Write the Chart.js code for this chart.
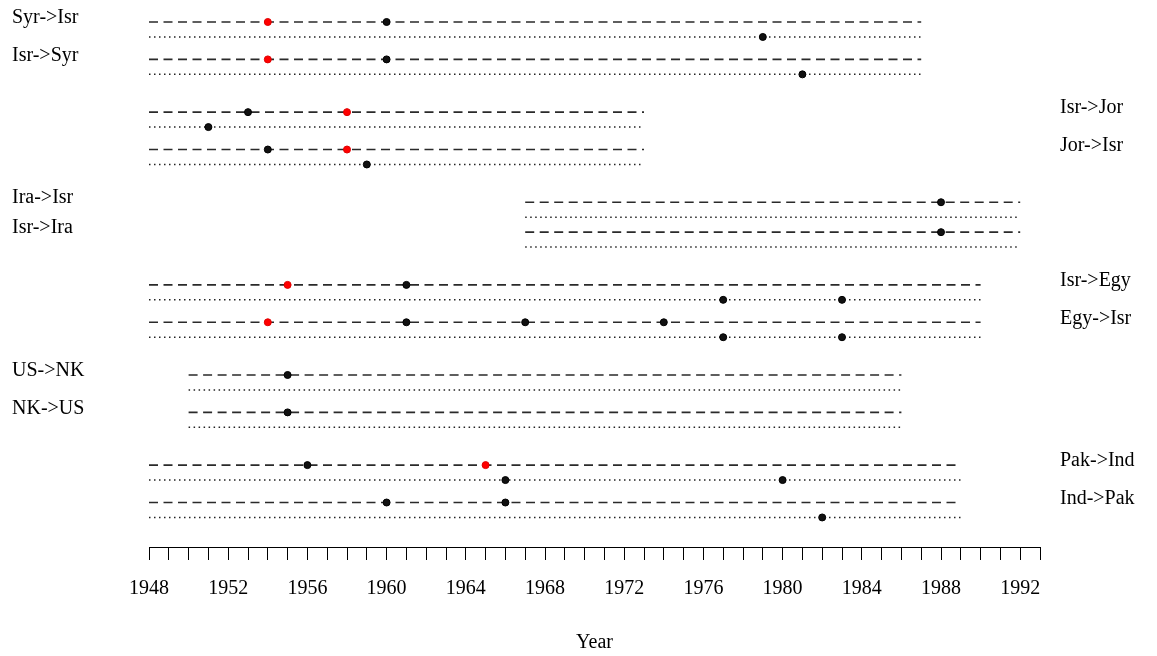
<!DOCTYPE html>
<html>
<head>
<meta charset="utf-8">
<script src="https://cdn.jsdelivr.net/npm/chart.js@4.4.0/dist/chart.umd.min.js"></script>
<style>
  html, body { margin: 0; padding: 0; background: #fff; }
</style>
</head>
<body>
<canvas id="rivalryChart" width="1157" height="656"></canvas>
<script>
// dyads, top to bottom
const dyads = ['Syr->Isr', 'Isr->Syr', 'Isr->Jor', 'Jor->Isr', 'Ira->Isr', 'Isr->Ira',
               'Isr->Egy', 'Egy->Isr', 'US->NK', 'NK->US', 'Pak->Ind', 'Ind->Pak'];
const startYear = [1948, 1948, 1948, 1948, 1967, 1967, 1948, 1948, 1950, 1950, 1948, 1948];
const endYear   = [1987, 1987, 1973, 1973, 1992, 1992, 1990, 1990, 1986, 1986, 1989, 1989];

// events on the dashed line (red / black) and on the dotted line
const redEvents    = [[1954], [1954], [1958], [1958], [], [], [1955], [1954], [], [], [1965], []];
const blackEvents  = [[1960], [1960], [1953], [1954], [1988], [1988], [1961], [1961, 1967, 1974],
                      [1955], [1955], [1956], [1960, 1966]];
const dottedEvents = [[1979], [1981], [1951], [1959], [], [], [1977, 1983], [1977, 1983],
                      [], [], [1966, 1980], [1982]];

const labelSide = ['left', 'left', 'right', 'right', 'left', 'left',
                   'right', 'right', 'left', 'left', 'right', 'right'];
const yearTicks = [1948, 1952, 1956, 1960, 1964, 1968, 1972, 1976, 1980, 1984, 1988, 1992];

// row layout (in y units): pair spacing per group, gap between groups
const pairGap = [1, 1, 0.8, 1, 1, 1];
const groupGap = 1.41;
const dotOffset = 0.4;
const levels = [];
let lv = 0;
for (let g = 0; g < pairGap.length; g++) {
    levels.push(lv, lv + pairGap[g]);
    lv += pairGap[g] + groupGap;
}

const datasets = [];
dyads.forEach((name, i) => {
    datasets.push({
        label: name + ' dashed',
        data: [{x: startYear[i], y: levels[i]}, {x: endYear[i], y: levels[i]}],
        showLine: true,
        borderColor: '#2a2a2a',
        borderWidth: 1.7,
        borderDash: [9, 5.5],
        pointRadius: 0,
        order: 2
    });
    datasets.push({
        label: name + ' dotted',
        data: [{x: startYear[i], y: levels[i] + dotOffset}, {x: endYear[i], y: levels[i] + dotOffset}],
        showLine: true,
        borderColor: '#222',
        borderWidth: 1.5,
        borderDash: [1.5, 3.5],
        pointRadius: 0,
        order: 2
    });
});

const blackPts = [];
const redPts = [];
dyads.forEach((name, i) => {
    blackEvents[i].forEach(yr => blackPts.push({x: yr, y: levels[i]}));
    dottedEvents[i].forEach(yr => blackPts.push({x: yr, y: levels[i] + dotOffset}));
    redEvents[i].forEach(yr => redPts.push({x: yr, y: levels[i]}));
});

datasets.push({
    label: 'black events',
    data: blackPts,
    pointRadius: 3.5,
    pointBackgroundColor: '#111',
    pointBorderColor: '#000',
    pointBorderWidth: 1,
    order: 0
});
datasets.push({
    label: 'red events',
    data: redPts,
    pointRadius: 3.5,
    pointBackgroundColor: '#ff0000',
    pointBorderColor: '#e00000',
    pointBorderWidth: 1,
    order: 0
});

// dyad names beside the rows
const dyadLabels = {
    id: 'dyadLabels',
    afterDraw(chart) {
        const ctx = chart.ctx;
        const yScale = chart.scales.y;
        const area = chart.chartArea;
        ctx.save();
        ctx.font = '20px "Liberation Serif"';
        ctx.fillStyle = '#000';
        ctx.textAlign = 'left';
        ctx.textBaseline = 'middle';
        dyads.forEach((name, i) => {
            const py = yScale.getPixelForValue(levels[i]) - 4;
            const px = labelSide[i] === 'left' ? 12 : area.right + 20;
            ctx.fillText(name, px, py);
        });
        ctx.restore();
    }
};

new Chart(document.getElementById('rivalryChart').getContext('2d'), {
    type: 'scatter',
    data: { datasets: datasets },
    options: {
        responsive: false,
        animation: false,
        devicePixelRatio: 1,
        layout: { padding: { left: 149, right: 117, top: 0, bottom: 1 } },
        plugins: {
            legend: { display: false },
            tooltip: { enabled: false }
        },
        scales: {
            x: {
                type: 'linear',
                min: 1948,
                max: 1993,
                ticks: {
                    stepSize: 1,
                    autoSkip: false,
                    maxRotation: 0,
                    padding: 17,
                    color: '#000',
                    font: { family: 'Liberation Serif', size: 20 },
                    callback: v => yearTicks.includes(v) ? String(v) : ''
                },
                grid: {
                    drawOnChartArea: false,
                    drawTicks: true,
                    tickLength: 13,
                    color: '#000',
                    lineWidth: 1
                },
                border: { display: true, color: '#000', width: 1 },
                title: {
                    display: true,
                    text: 'Year',
                    color: '#000',
                    font: { family: 'Liberation Serif', size: 20 },
                    padding: { top: 13, bottom: 0 }
                }
            },
            y: {
                type: 'linear',
                display: false,
                reverse: true,
                min: -0.455,
                max: 14.04
            }
        }
    },
    plugins: [dyadLabels]
});
</script>
</body>
</html>
